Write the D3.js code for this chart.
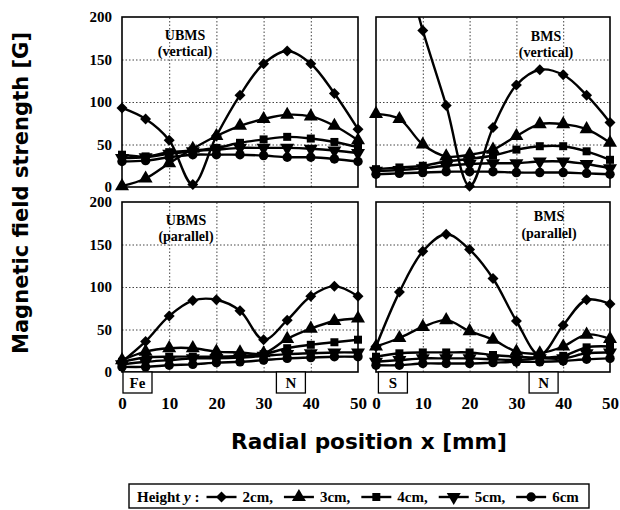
<!DOCTYPE html>
<html><head><meta charset="utf-8">
<script src="https://cdn.jsdelivr.net/npm/d3@7/dist/d3.min.js"></script>
<style>body{margin:0;background:#fff} svg{display:block}</style>
</head><body>
<svg id="chart" width="620" height="510"></svg>
<script>
// ---------- data ----------
const xPositions = [0, 5, 10, 15, 20, 25, 30, 35, 40, 45, 50];
const heights = ['2cm', '3cm', '4cm', '5cm', '6cm'];
const yTicks = [0, 50, 100, 150, 200];
const xTicks = [0, 10, 20, 30, 40, 50];

const ubmsVertical2 = [93, 80, 55, 3, 60, 108, 145, 160, 145, 110, 68];
const ubmsVertical3 = [1, 10, 28, 45, 60, 72, 80, 85, 83, 72, 55];
const ubmsVertical4 = [38, 36, 41, 43, 46, 52, 56, 59, 57, 53, 47];
const ubmsVertical5 = [34, 35, 39, 42, 44, 46, 46, 46, 45, 43, 40];
const ubmsVertical6 = [30, 31, 35, 38, 38, 38, 37, 35, 35, 33, 30];

const bmsVertical2 = [330, 280, 184, 96, 1, 70, 120, 138, 132, 108, 76];
const bmsVertical3 = [86, 80, 50, 36, 38, 44, 60, 74, 74, 68, 52];
const bmsVertical4 = [21, 23, 25, 30, 33, 37, 44, 48, 48, 42, 32];
const bmsVertical5 = [19, 20, 22, 25, 27, 28, 28, 30, 30, 27, 22];
const bmsVertical6 = [15, 16, 17, 18, 18, 18, 17, 17, 17, 16, 15];

const ubmsParallel2 = [12, 36, 66, 84, 85, 72, 38, 61, 89, 101, 89];
const ubmsParallel3 = [14, 24, 28, 28, 24, 23, 22, 39, 51, 60, 63];
const ubmsParallel4 = [12, 17, 18, 18, 18, 19, 21, 28, 32, 35, 38];
const ubmsParallel5 = [9, 12, 14, 16, 16, 17, 19, 21, 22, 23, 23];
const ubmsParallel6 = [6, 6, 8, 9, 11, 12, 14, 16, 17, 18, 18];

const bmsParallel2 = [30, 94, 142, 162, 144, 110, 60, 20, 55, 85, 80];
const bmsParallel3 = [30, 40, 53, 61, 48, 38, 24, 22, 30, 44, 39];
const bmsParallel4 = [18, 22, 23, 23, 23, 20, 18, 17, 19, 29, 30];
const bmsParallel5 = [12, 14, 16, 16, 16, 15, 14, 16, 16, 22, 23];
const bmsParallel6 = [8, 8, 10, 10, 10, 11, 12, 12, 13, 15, 16];

const panelTitles = [['UBMS', '(vertical)'], ['BMS', '(vertical)'], ['UBMS', '(parallel)'], ['BMS', '(parallel)']];
const magnetLabels = [[], [], ['Fe', 'N'], ['S', 'N']];
const yTitle = 'Magnetic field strength [G]';
const xTitle = 'Radial position x [mm]';
const legendLead = 'Height ';

// ---------- layout ----------
const panels = [
  {series: [ubmsVertical2, ubmsVertical3, ubmsVertical4, ubmsVertical5, ubmsVertical6],
   left: 122, right: 358, top: 17, bottom: 187, showY: true, showX: false, tx: 185, ty: [40, 56]},
  {series: [bmsVertical2, bmsVertical3, bmsVertical4, bmsVertical5, bmsVertical6],
   left: 376, right: 610, top: 17, bottom: 187, showY: false, showX: false, tx: 546, ty: [41, 57]},
  {series: [ubmsParallel2, ubmsParallel3, ubmsParallel4, ubmsParallel5, ubmsParallel6],
   left: 122, right: 358, top: 202, bottom: 372, showY: true, showX: true, tx: 186, ty: [225, 241]},
  {series: [bmsParallel2, bmsParallel3, bmsParallel4, bmsParallel5, bmsParallel6],
   left: 376, right: 610, top: 202, bottom: 372, showY: false, showX: true, tx: 549, ty: [221, 238]}
];
const magnetBoxes = [[], [], [{x: 0}, {x: 32.5}], [{x: 0.3}, {x: 32.5}]];

const serif = '"Liberation Serif", "Times New Roman", serif';
const sans = '"DejaVu Sans", "Open Sans", sans-serif';

const symbolDefs = [
  {type: d3.symbolSquare, size: 60, rot: 45},
  {type: d3.symbolTriangle, size: 85, rot: 0},
  {type: d3.symbolSquare, size: 64, rot: 0},
  {type: d3.symbolTriangle, size: 85, rot: 180},
  {type: d3.symbolCircle, size: 70, rot: 0}
];

const svg = d3.select('#chart');
svg.append('rect').attr('width', 620).attr('height', 510).attr('fill', '#fff');

panels.forEach((p, pi) => {
  const x = d3.scaleLinear().domain([0, 50]).range([p.left, p.right]);
  const y = d3.scaleLinear().domain([0, 200]).range([p.bottom, p.top]);
  const g = svg.append('g');

  // grid
  const gx = g.append('g').attr('transform', `translate(0,${p.bottom})`)
    .call(d3.axisBottom(x).tickValues([10, 20, 30, 40]).tickSize(-(p.bottom - p.top)).tickFormat(''));
  const gy = g.append('g').attr('transform', `translate(${p.left},0)`)
    .call(d3.axisLeft(y).tickValues([50, 100, 150]).tickSize(-(p.right - p.left)).tickFormat(''));
  [gx, gy].forEach(a => {
    a.select('.domain').remove();
    a.selectAll('line').attr('stroke', '#444').attr('stroke-width', 1).attr('stroke-dasharray', '1.5,2');
  });

  // frame
  g.append('rect').attr('x', p.left).attr('y', p.top)
    .attr('width', p.right - p.left).attr('height', p.bottom - p.top)
    .attr('fill', 'none').attr('stroke', '#000').attr('stroke-width', 1.6);

  // clip
  const cid = 'clip' + pi;
  svg.append('clipPath').attr('id', cid).append('rect')
    .attr('x', p.left - 8).attr('y', p.top).attr('width', p.right - p.left + 16).attr('height', p.bottom - p.top + 10);

  const line = d3.line().x((d, i) => x(xPositions[i])).y(d => y(d)).curve(d3.curveCatmullRom.alpha(0.5));
  const sg = g.append('g').attr('clip-path', `url(#${cid})`);
  p.series.forEach((vals, si) => {
    sg.append('path').attr('d', line(vals)).attr('fill', 'none').attr('stroke', '#000').attr('stroke-width', 2.4);
    const sd = symbolDefs[si];
    sg.selectAll(null).data(vals).enter().append('path')
      .attr('d', d3.symbol().type(sd.type).size(sd.size))
      .attr('transform', (d, i) => `translate(${x(xPositions[i])},${y(d)}) rotate(${sd.rot})`)
      .attr('fill', '#000');
  });

  // titles
  panelTitles[pi].forEach((t, k) => {
    g.append('text').attr('x', p.tx).attr('y', p.ty[k]).attr('text-anchor', 'middle')
      .attr('font-family', serif).attr('font-weight', 'bold').attr('font-size', 14).text(t);
  });

  // y axis labels
  if (p.showY) {
    const ya = g.append('g').attr('transform', `translate(${p.left},0)`)
      .call(d3.axisLeft(y).tickValues(yTicks).tickSize(0).tickPadding(10));
    ya.select('.domain').remove();
    ya.selectAll('text').attr('font-family', serif).attr('font-weight', 'bold').attr('font-size', 15).attr('fill', '#000');
  }
  // x axis labels
  if (p.showX) {
    const xa = g.append('g').attr('transform', `translate(0,${p.bottom})`)
      .call(d3.axisBottom(x).tickValues(xTicks).tickSize(0).tickPadding(25));
    xa.select('.domain').remove();
    xa.selectAll('text').attr('font-family', serif).attr('font-weight', 'bold').attr('font-size', 17).attr('fill', '#000');
  }

  // magnet boxes
  magnetLabels[pi].forEach((lab, k) => {
    const bx = x(magnetBoxes[pi][k].x);
    g.append('rect').attr('x', bx + 1).attr('y', p.bottom).attr('width', 29).attr('height', 21)
      .attr('fill', '#fff').attr('stroke', '#000').attr('stroke-width', 1.3);
    g.append('text').attr('x', bx + 15.5).attr('y', p.bottom + 16).attr('text-anchor', 'middle')
      .attr('font-family', serif).attr('font-weight', 'bold').attr('font-size', 15).text(lab);
  });
});

// axis titles
svg.append('text').attr('transform', 'translate(28,193) rotate(-90)').attr('text-anchor', 'middle')
  .attr('font-family', sans).attr('font-weight', 'bold').attr('font-size', 22)
  .attr('textLength', 322).attr('lengthAdjust', 'spacingAndGlyphs').text(yTitle);
svg.append('text').attr('x', 369).attr('y', 449).attr('text-anchor', 'middle')
  .attr('font-family', sans).attr('font-weight', 'bold').attr('font-size', 22)
  .attr('textLength', 276).attr('lengthAdjust', 'spacingAndGlyphs').text(xTitle);

// legend
const lg = svg.append('g');
lg.append('rect').attr('x', 129).attr('y', 484).attr('width', 460).attr('height', 24)
  .attr('fill', '#fff').attr('stroke', '#000').attr('stroke-width', 1.4);
const lt = lg.append('text').attr('x', 137).attr('y', 502)
  .attr('font-family', serif).attr('font-weight', 'bold').attr('font-size', 15);
lt.append('tspan').text(legendLead);
lt.append('tspan').attr('font-style', 'italic').text('y');
lt.append('tspan').text(' :');
let cx = 137 + lt.node().getComputedTextLength() + 7;
heights.forEach((h, i) => {
  lg.append('line').attr('x1', cx).attr('x2', cx + 30).attr('y1', 497).attr('y2', 497)
    .attr('stroke', '#000').attr('stroke-width', 2.4);
  const sd = symbolDefs[i];
  lg.append('path').attr('d', d3.symbol().type(sd.type).size(sd.size))
    .attr('transform', `translate(${cx + 15},497) rotate(${sd.rot})`).attr('fill', '#000');
  cx += 36;
  const t = lg.append('text').attr('x', cx).attr('y', 502)
    .attr('font-family', serif).attr('font-weight', 'bold').attr('font-size', 15)
    .text(h + (i < heights.length - 1 ? ',' : ''));
  cx += t.node().getComputedTextLength() + 11;
});
</script>
</body></html>
